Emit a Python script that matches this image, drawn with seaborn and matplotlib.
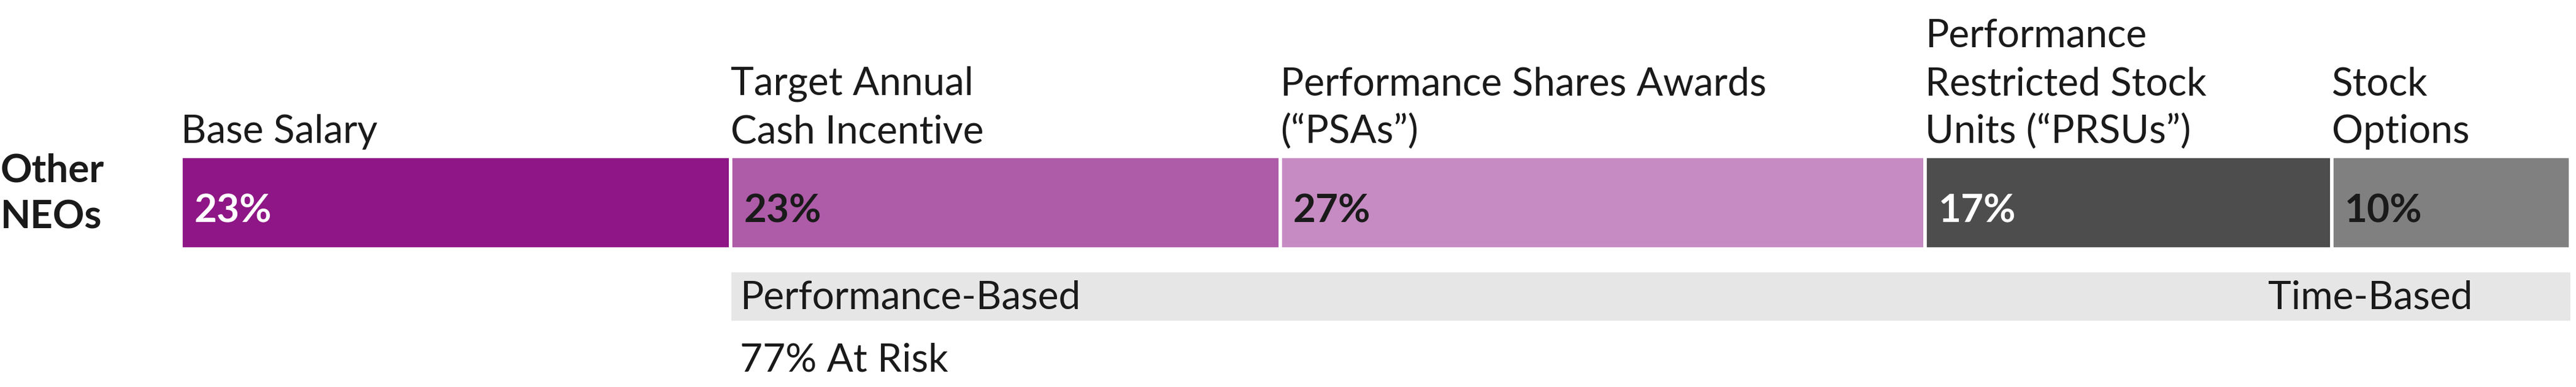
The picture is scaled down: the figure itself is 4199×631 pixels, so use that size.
import matplotlib
matplotlib.use("Agg")
import matplotlib.pyplot as plt
import seaborn as sns
import numpy as np

categories = ["Base Salary", "Target Annual\nCash Incentive", "Performance Shares Awards\n(\u201cPSAs\u201d)",
              "Performance\nRestricted Stock\nUnits (\u201cPRSUs\u201d)", "Stock\nOptions"]
values = [23, 23, 27, 17, 10]
colors = ["#8E1686", "#AE5BA8", "#C68BC2", "#4D4D4D", "#808080"]
label_colors = ["white", "#1a1a1a", "#1a1a1a", "white", "#1a1a1a"]

sns.set_theme(style="white")
plt.rcParams['font.family'] = ['Lato', 'DejaVu Sans']

fig = plt.figure(figsize=(41.99, 6.31), dpi=100)
ax = fig.add_axes([0, 0, 1, 1])
ppx = 38.95
ax.set_xlim(-295 / ppx, (4199 - 295) / ppx)
ax.set_ylim(631, 0)
ax.axis("off")

fs = 46
lefts = np.concatenate([[0], np.cumsum(values)[:-1]])
ax.barh([330] * 5, values, left=lefts, height=151, color=colors, edgecolor="white", linewidth=4)
for l, v, c, lc in zip(lefts, values, categories, label_colors):
    ax.text(l + 0.55, 344, f"{v}%", color=lc, fontsize=fs, fontweight="bold", va="center", ha="left")
    lines = c.split("\n")
    for i, line in enumerate(reversed(lines)):
        ax.text(l, 215 - 78 * i, line, color="#1a1a1a", fontsize=fs, va="center", ha="left")

# band
ax.barh([483], [100 - 23], left=[23], height=80, color="#E6E6E6")
ax.text(23 + 0.4, 485, "Performance-Based", fontsize=fs, va="center", ha="left", color="#1a1a1a")
ax.text(95.9, 485, "Time-Based", fontsize=fs, va="center", ha="right", color="#1a1a1a")
ax.text(23 + 0.4, 588, "77% At Risk", fontsize=fs, va="center", ha="left", color="#1a1a1a")
ax.text(-7.55, 278, "Other", fontsize=fs, fontweight="bold", va="center", ha="left", color="#1a1a1a")
ax.text(-7.55, 354, "NEOs", fontsize=fs, fontweight="bold", va="center", ha="left", color="#1a1a1a")

fig.savefig("out.png", dpi=100)
